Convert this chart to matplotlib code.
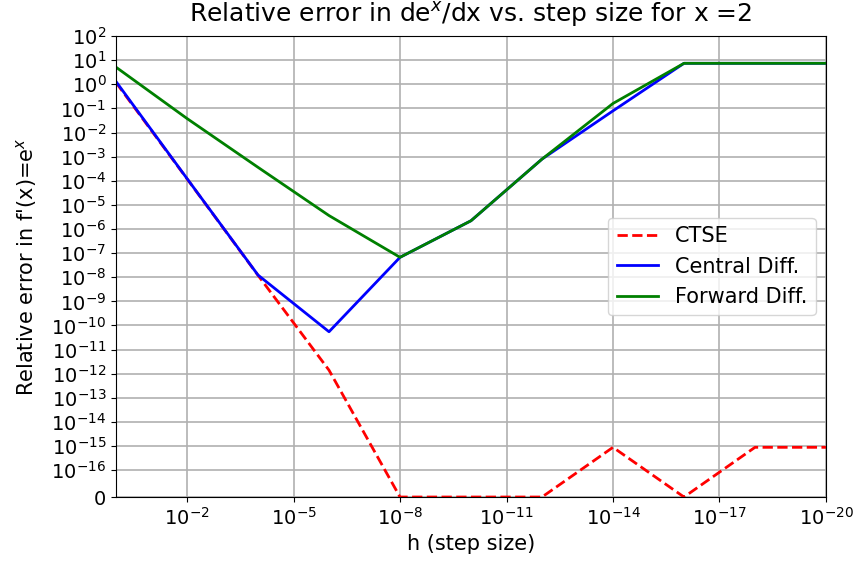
import matplotlib
matplotlib.use('Agg')
import matplotlib.pyplot as plt
from matplotlib.ticker import FixedLocator, NullLocator

# step sizes h = 10^0 ... 10^-20
h = [1e0, 1e-2, 1e-4, 1e-6, 1e-8, 1e-10, 1e-12, 1e-14, 1e-16, 1e-18, 1e-20]

# errors
err_ctse = [1.17, 1.2e-4, 1.2e-8, 1.4e-12, 0, 0, 0, 8.9e-16, 0, 8.9e-16, 8.9e-16]
err_central = [1.29, 1.23e-4, 1.23e-8, 5.5e-11, 6.7e-8, 2.2e-6, 7.9e-4, 7.9e-2, 7.39, 7.39, 7.39]
err_forward = [5.1, 3.8e-2, 3.6e-4, 3.6e-6, 6.7e-8, 2.2e-6, 7.9e-4, 1.6e-1, 7.39, 7.39, 7.39]

ytick_vals = [0] + [10.0 ** k for k in range(-16, 3)]
ytick_labels = ['0'] + ['$10^{%d}$' % k for k in range(-16, 3)]
xtick_vals = [10.0 ** k for k in range(-2, -21, -3)]
xtick_labels = ['$10^{%d}$' % k for k in range(-2, -21, -3)]

fig = plt.figure(figsize=(8.57, 5.69), dpi=100)
ax = fig.add_axes([0.1354, 0.1265, 0.8284, 0.8102])

ax.plot(h, err_ctse, 'r--', lw=2, label='CTSE')
ax.plot(h, err_central, 'b-', lw=2, label='Central Diff.')
ax.plot(h, err_forward, 'g-', lw=2, label='Forward Diff.')

ax.set_xscale('log')
ax.set_yscale('symlog', linthresh=1e-16)
ax.set_xlim(1, 1e-20)
ax.set_ylim(0, 1e2)

ax.xaxis.set_major_locator(FixedLocator(xtick_vals))
ax.set_xticklabels(xtick_labels)
ax.xaxis.set_minor_locator(NullLocator())
ax.yaxis.set_major_locator(FixedLocator(ytick_vals))
ax.set_yticklabels(ytick_labels)
ax.yaxis.set_minor_locator(NullLocator())
ax.tick_params(labelsize=14)

ax.grid(True, color='#b0b0b0', lw=1.2)
ax.set_axisbelow(True)

ax.set_xlabel('h (step size)', fontsize=15)
ax.set_ylabel("Relative error in f'(x)=e$^x$", fontsize=15, labelpad=9)
ax.set_title('Relative error in de$^x$/dx vs. step size for x =2', fontsize=18, pad=10)
ax.legend(loc='center right', fontsize=15)

fig.savefig('out.png', dpi=100)
